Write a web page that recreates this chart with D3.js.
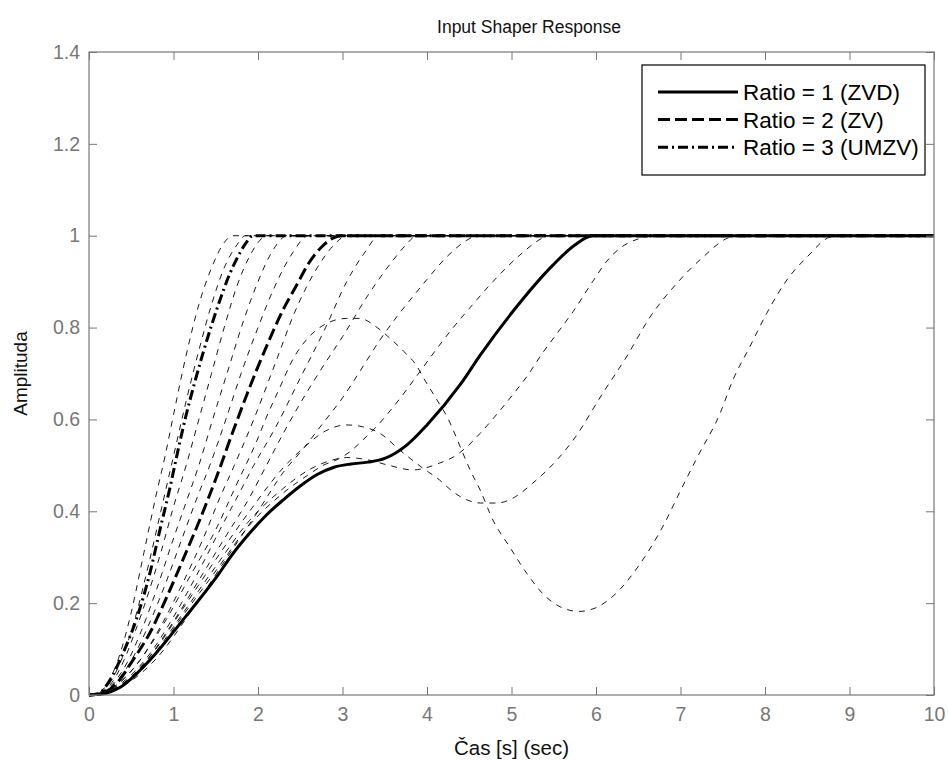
<!DOCTYPE html>
<html>
<head>
<meta charset="utf-8">
<script src="https://cdn.jsdelivr.net/npm/d3@7"></script>
<style>
  body { margin: 0; background: #fff; }
  svg { display: block; font-family: "Liberation Sans", Arial, sans-serif; }
</style>
</head>
<body>
<svg id="chart" width="948" height="761"></svg>
<script>
// --- data: [time (s), amplitude] ---
const zvd = [[0,0],[0.15,0.002],[0.37,0.017],[0.72,0.076],[1.11,0.163],[1.51,0.257],[1.7,0.307],[1.9,0.352],[2.1,0.392],[2.3,0.425],[2.5,0.455],[2.7,0.48],[2.9,0.496],[3.1,0.503],[3.3,0.507],[3.5,0.515],[3.76,0.544],[4.0,0.588],[4.39,0.675],[4.63,0.74],[5.02,0.836],[5.49,0.936],[5.75,0.98],[5.96,1],[10,1]];
const zv = [[0,0],[0.12,0.002],[0.33,0.026],[0.52,0.076],[0.72,0.135],[0.92,0.213],[1.11,0.294],[1.31,0.381],[1.51,0.475],[1.71,0.577],[1.87,0.655],[2.0,0.715],[2.15,0.78],[2.3,0.84],[2.45,0.89],[2.6,0.94],[2.75,0.975],[2.9,0.996],[2.98,1],[10,1]];
const umzv = [[0,0],[0.1,0.002],[0.25,0.033],[0.4,0.09],[0.57,0.17],[0.72,0.265],[0.84,0.36],[0.96,0.453],[1.05,0.53],[1.15,0.61],[1.25,0.68],[1.35,0.745],[1.45,0.805],[1.55,0.86],[1.65,0.91],[1.75,0.95],[1.85,0.982],[1.94,1],[10,1]];

// thin dashed family (other ratios)
const otherRatios = [
  [[0,0],[0.08,0.002],[0.2,0.02],[0.35,0.08],[0.5,0.18],[0.65,0.31],[0.8,0.44],[0.9,0.52],[1.0,0.61],[1.15,0.74],[1.3,0.85],[1.45,0.93],[1.6,0.985],[1.7,1],[10,1]],
  [[0,0],[0.09,0.002],[0.22,0.02],[0.38,0.075],[0.55,0.17],[0.7,0.28],[0.85,0.4],[1.0,0.52],[1.15,0.64],[1.3,0.75],[1.45,0.85],[1.6,0.93],[1.75,0.98],[1.85,1],[10,1]],
  [[0,0],[0.1,0.002],[0.25,0.022],[0.4,0.07],[0.55,0.14],[0.7,0.22],[0.85,0.31],[1.0,0.41],[1.15,0.5],[1.3,0.6],[1.45,0.7],[1.6,0.8],[1.75,0.89],[1.9,0.955],[2.0,0.985],[2.1,1],[10,1]],
  [[0,0],[0.1,0.002],[0.28,0.024],[0.45,0.07],[0.62,0.14],[0.8,0.23],[0.98,0.33],[1.15,0.42],[1.3,0.5],[1.48,0.61],[1.65,0.71],[1.82,0.81],[2.0,0.9],[2.15,0.96],[2.35,1],[10,1]],
  [[0,0],[0.11,0.002],[0.3,0.025],[0.5,0.075],[0.7,0.15],[0.9,0.24],[1.1,0.34],[1.28,0.43],[1.43,0.5],[1.62,0.6],[1.8,0.7],[2.0,0.8],[2.2,0.89],[2.4,0.96],[2.6,1],[10,1]],
  [[0,0],[0.12,0.002],[0.35,0.025],[0.6,0.075],[0.85,0.15],[1.1,0.24],[1.35,0.34],[1.55,0.43],[1.72,0.5],[1.95,0.6],[2.2,0.72],[2.45,0.84],[2.7,0.93],[2.9,0.98],[3.05,1],[10,1]],
  [[0,0],[0.13,0.002],[0.4,0.028],[0.7,0.085],[1.0,0.17],[1.3,0.27],[1.55,0.36],[1.78,0.44],[1.95,0.5],[2.2,0.58],[2.5,0.69],[2.8,0.8],[3.05,0.9],[3.25,0.96],[3.44,1],[10,1]],
  [[0,0],[0.13,0.002],[0.4,0.025],[0.7,0.08],[1.0,0.16],[1.3,0.25],[1.6,0.34],[1.9,0.43],[2.1,0.5],[2.3,0.57],[2.5,0.635],[2.75,0.71],[3.0,0.78],[3.3,0.87],[3.6,0.947],[3.75,0.98],[3.88,1],[10,1]],
  [[0,0],[0.14,0.002],[0.45,0.025],[0.8,0.08],[1.2,0.18],[1.6,0.29],[2.0,0.4],[2.3,0.485],[2.53,0.535],[2.77,0.592],[3.0,0.647],[3.2,0.703],[3.44,0.772],[3.64,0.823],[3.84,0.869],[4.0,0.905],[4.24,0.955],[4.47,0.99],[4.6,1],[10,1]],
  [[0,0],[0.15,0.002],[0.4,0.02],[0.75,0.08],[1.1,0.17],[1.5,0.27],[1.9,0.37],[2.3,0.44],[2.6,0.48],[2.77,0.5],[2.93,0.512],[3.09,0.53],[3.24,0.555],[3.41,0.586],[3.6,0.627],[3.76,0.665],[3.92,0.705],[4.12,0.755],[4.31,0.8],[4.54,0.85],[4.78,0.9],[5.1,0.958],[5.37,0.995],[5.45,1],[10,1]],
  [[0,0],[0.15,0.002],[0.4,0.022],[0.75,0.085],[1.1,0.175],[1.5,0.28],[1.9,0.38],[2.3,0.45],[2.6,0.49],[2.85,0.51],[3.05,0.517],[3.3,0.512],[3.55,0.5],[3.83,0.49],[4.15,0.505],[4.31,0.518],[4.47,0.54],[4.63,0.57],[4.83,0.612],[5.02,0.655],[5.18,0.693],[5.35,0.74],[5.57,0.795],[5.73,0.835],[5.96,0.9],[6.13,0.945],[6.3,0.975],[6.5,0.993],[6.72,1],[10,1]],
  [[0,0],[0.14,0.002],[0.4,0.024],[0.75,0.09],[1.1,0.185],[1.5,0.295],[1.9,0.4],[2.3,0.495],[2.55,0.54],[2.8,0.575],[3.05,0.588],[3.24,0.584],[3.44,0.57],[3.68,0.533],[3.95,0.494],[4.15,0.468],[4.31,0.442],[4.47,0.425],[4.63,0.418],[4.83,0.418],[5.02,0.429],[5.25,0.461],[5.61,0.527],[5.73,0.555],[6.08,0.657],[6.36,0.736],[6.64,0.823],[6.96,0.897],[7.27,0.954],[7.56,0.995],[7.7,1],[10,1]],
  [[0,0],[0.12,0.002],[0.35,0.025],[0.6,0.075],[0.9,0.16],[1.2,0.26],[1.5,0.36],[1.75,0.46],[1.99,0.555],[2.1,0.605],[2.26,0.67],[2.41,0.73],[2.58,0.775],[2.73,0.8],[2.89,0.815],[3.05,0.82],[3.2,0.82],[3.41,0.8],[3.56,0.777],[3.72,0.749],[3.88,0.716],[3.96,0.69],[4.12,0.642],[4.24,0.605],[4.41,0.533],[4.51,0.49],[4.63,0.446],[4.78,0.381],[4.98,0.322],[5.18,0.265],[5.4,0.215],[5.6,0.19],[5.8,0.182],[6.0,0.19],[6.2,0.215],[6.5,0.28],[6.8,0.37],[7.0,0.445],[7.2,0.518],[7.47,0.614],[7.62,0.686],[7.82,0.758],[8.02,0.831],[8.26,0.904],[8.5,0.954],[8.77,0.997],[8.9,1],[10,1]]
];

const xTicks = [0,1,2,3,4,5,6,7,8,9,10];
const yTicks = [0,0.2,0.4,0.6,0.8,1,1.2,1.4];
const yTickLabels = ['0','0.2','0.4','0.6','0.8','1','1.2','1.4'];
const legendLabels = ['Ratio = 1 (ZVD)','Ratio = 2 (ZV)','Ratio = 3 (UMZV)'];

// --- layout ---
const svg = d3.select('#chart');
const box = { left: 89, right: 934, top: 52, bottom: 695 };
const axisGray = '#777';

const x = d3.scaleLinear().domain([0, 10]).range([box.left, box.right]);
const y = d3.scaleLinear().domain([0, 1.4]).range([box.bottom, box.top]);

svg.append('rect').attr('width', 948).attr('height', 761).attr('fill', '#fff');

svg.append('defs').append('clipPath').attr('id', 'plot-clip')
  .append('rect').attr('x', box.left).attr('y', box.top - 2)
  .attr('width', box.right - box.left).attr('height', box.bottom - box.top + 4);

const line = d3.line().x(d => x(d[0])).y(d => y(d[1])).curve(d3.curveMonotoneX);
const plot = svg.append('g').attr('clip-path', 'url(#plot-clip)');

plot.selectAll('path.thin')
  .data(otherRatios)
  .enter().append('path')
  .attr('class', 'thin')
  .attr('d', line)
  .attr('fill', 'none')
  .attr('stroke', '#000')
  .attr('stroke-width', 0.9)
  .attr('stroke-dasharray', '6,6');

const mainSeries = [
  { data: zvd,  dash: null },
  { data: zv,   dash: '12,5' },
  { data: umzv, dash: '10,4,2,4' }
];

plot.selectAll('path.main')
  .data(mainSeries)
  .enter().append('path')
  .attr('class', 'main')
  .attr('d', d => line(d.data))
  .attr('fill', 'none')
  .attr('stroke', '#000')
  .attr('stroke-width', 3)
  .attr('stroke-dasharray', d => d.dash);

// --- axes (MATLAB style: inward ticks on all four sides) ---
function styleAxis(g) {
  g.select('.domain').remove();
  g.selectAll('.tick line').attr('stroke', axisGray);
  g.selectAll('.tick text').attr('fill', axisGray).attr('font-size', 19.5)
    .attr('font-family', '"Liberation Sans", Arial, sans-serif');
}

svg.append('g').attr('transform', `translate(0,${box.bottom})`)
  .call(d3.axisBottom(x).tickValues(xTicks).tickSizeInner(-8).tickSizeOuter(0).tickPadding(12))
  .call(styleAxis);
svg.append('g').attr('transform', `translate(0,${box.top})`)
  .call(d3.axisTop(x).tickValues(xTicks).tickFormat('').tickSizeInner(-8).tickSizeOuter(0))
  .call(styleAxis);
svg.append('g').attr('transform', `translate(${box.left},0)`)
  .call(d3.axisLeft(y).tickValues(yTicks).tickFormat((d, i) => yTickLabels[i]).tickSizeInner(-8).tickSizeOuter(0).tickPadding(9))
  .call(styleAxis);
svg.append('g').attr('transform', `translate(${box.right},0)`)
  .call(d3.axisRight(y).tickValues(yTicks).tickFormat('').tickSizeInner(-8).tickSizeOuter(0))
  .call(styleAxis);

svg.append('rect')
  .attr('x', box.left).attr('y', box.top)
  .attr('width', box.right - box.left).attr('height', box.bottom - box.top)
  .attr('fill', 'none').attr('stroke', axisGray).attr('stroke-width', 1.2);

// --- titles ---
svg.append('text').attr('x', 529).attr('y', 33)
  .attr('text-anchor', 'middle').attr('font-size', 17.5).attr('fill', '#111')
  .text('Input Shaper Response');
svg.append('text').attr('x', (box.left + box.right) / 2).attr('y', 755)
  .attr('text-anchor', 'middle').attr('font-size', 20.5).attr('fill', '#111')
  .text('Čas [s] (sec)');
svg.append('text').attr('transform', `translate(27,${(box.top + box.bottom) / 2}) rotate(-90)`)
  .attr('text-anchor', 'middle').attr('font-size', 19).attr('fill', '#111')
  .text('Amplituda');

// --- legend ---
const legend = svg.append('g');
legend.append('rect').attr('x', 642).attr('y', 65).attr('width', 283).attr('height', 110)
  .attr('fill', '#fff').attr('stroke', '#000').attr('stroke-width', 1.2);
const rows = legend.selectAll('g.row')
  .data(mainSeries)
  .enter().append('g').attr('class', 'row')
  .attr('transform', (d, i) => `translate(0,${92 + i * 27.6})`);
rows.append('line').attr('x1', 658).attr('x2', 738)
  .attr('stroke', '#000').attr('stroke-width', 3)
  .attr('stroke-dasharray', d => d.dash);
rows.append('text').attr('x', 743).attr('dy', '0.36em')
  .attr('font-size', 22.5).attr('fill', '#000')
  .text((d, i) => legendLabels[i]);
</script>
</body>
</html>
